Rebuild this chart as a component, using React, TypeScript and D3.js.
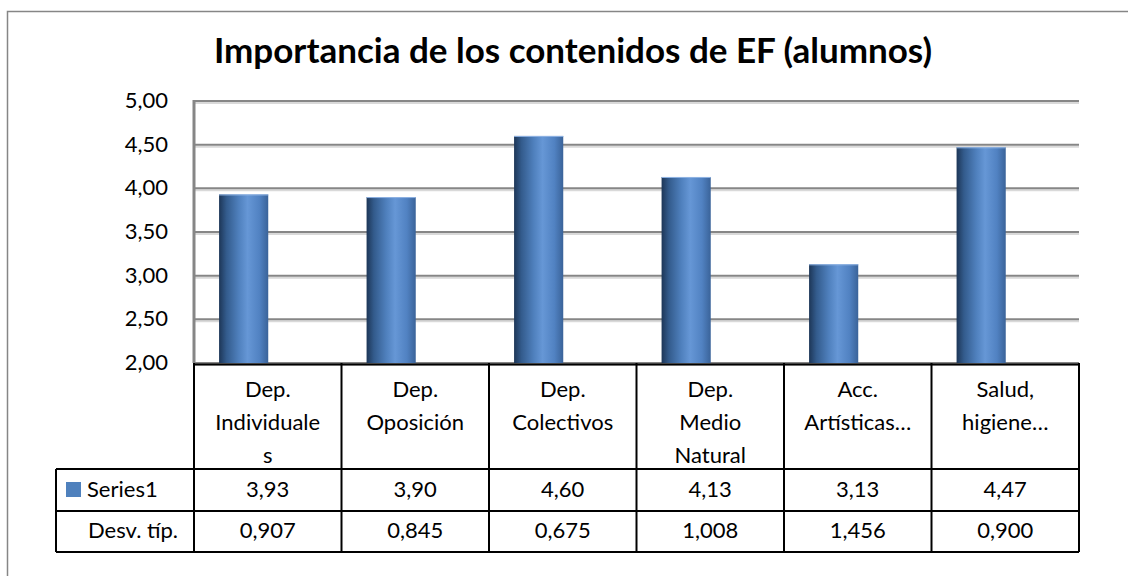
import React from "react";
import * as d3 from "d3";

// chart data
const categories: string[][] = [
    ["Dep.", "Individuale", "s"],
    ["Dep.", "Oposición"],
    ["Dep.", "Colectivos"],
    ["Dep.", "Medio", "Natural"],
    ["Acc.", "Artísticas…"],
    ["Salud,", "higiene…"],
];
const seriesName = "Series1";
const values: number[] = [3.93, 3.9, 4.6, 4.13, 3.13, 4.47];
const desvLabel = "Desv. típ.";
const desv: number[] = [0.907, 0.845, 0.675, 1.008, 1.456, 0.9];
const yTicks: number[] = [2, 2.5, 3, 3.5, 4, 4.5, 5];
const title = "Importancia de los contenidos de EF (alumnos)";

const esLocale = d3.formatLocale({ decimal: ",", thousands: ".", grouping: [3], currency: ["", "€"] });
const fmt2 = esLocale.format(".2f");
const fmt3 = esLocale.format(".3f");

const FONT = "Lato, 'Open Sans', sans-serif";
const FS = 22;

export default function App() {
    const W = 1128;
    const H = 576;
    const plot = { left: 194, right: 1079, top: 101, bottom: 363 };
    const rowHeader = 469;
    const rowSeries = 511;
    const rowDesv = 552;
    const legendLeft = 56;

    // columns of the data table double as the x bands
    const x = d3
        .scaleBand<number>()
        .domain(d3.range(categories.length))
        .range([plot.left, plot.right])
        .paddingInner(0)
        .paddingOuter(0);
    const y = d3.scaleLinear().domain([2, 5]).range([plot.bottom, plot.top]);

    const bw = x.bandwidth();
    const barW = bw / 3;
    const barOffset = bw * 0.17; // bars sit a bit left of centre (3D perspective)

    const colEdges = d3.range(categories.length + 1).map(i => plot.left + i * bw);

    return (
        <svg width={W} height={H} style={{ position: "absolute", left: 0, top: 0, background: "#fff" }} fontFamily={FONT}>
            <defs>
                <linearGradient id="cyl" x1="0" x2="1" y1="0" y2="0">
                    <stop offset="0%" stopColor="#1d3657" />
                    <stop offset="15%" stopColor="#335b8c" />
                    <stop offset="40%" stopColor="#4f80bd" />
                    <stop offset="58%" stopColor="#6697d6" />
                    <stop offset="82%" stopColor="#5182c2" />
                    <stop offset="100%" stopColor="#3a6399" />
                </linearGradient>
            </defs>

            {/* outer chart border, cut off at right and bottom */}
            <rect x={7.5} y={11.5} width={1140} height={600} fill="#fff" stroke="#868686" strokeWidth={1.5} />

            <text x={573} y={63} textAnchor="middle" fontSize={35} fontWeight="bold" fill="#000">
                {title}
            </text>

            {/* gridlines */}
            {yTicks.map(t => (
                <g key={"g" + t}>
                    <line x1={plot.left} x2={plot.right} y1={y(t) + 2} y2={y(t) + 2} stroke="#d9d9d9" strokeWidth={2} />
                    <line x1={plot.left} x2={plot.right} y1={y(t)} y2={y(t)} stroke="#868686" strokeWidth={2} />
                </g>
            ))}
            <line x1={plot.left} x2={plot.left} y1={plot.top - 1} y2={plot.bottom} stroke="#868686" strokeWidth={3} />

            {/* y tick labels */}
            {yTicks.map(t => (
                <text key={"t" + t} x={168} y={y(t) + 7} textAnchor="end" fontSize={FS} fill="#000">
                    {fmt2(t)}
                </text>
            ))}

            {/* bars */}
            {values.map((v, i) => (
                <g key={"b" + i}>
                    <rect x={(x(i) as number) + barOffset} y={y(v)} width={barW} height={plot.bottom - y(v)} fill="url(#cyl)" />
                    <line
                        x1={(x(i) as number) + barOffset}
                        x2={(x(i) as number) + barOffset + barW}
                        y1={y(v) + 0.5}
                        y2={y(v) + 0.5}
                        stroke="#8fb3e3"
                        strokeWidth={1}
                    />
                </g>
            ))}

            {/* data table */}
            <g stroke="#000" strokeWidth={2} fill="none">
                <line x1={plot.left} x2={plot.right} y1={plot.bottom + 1.5} y2={plot.bottom + 1.5} />
                <line x1={legendLeft} x2={plot.right} y1={rowHeader} y2={rowHeader} />
                <line x1={legendLeft} x2={plot.right} y1={rowSeries} y2={rowSeries} />
                <line x1={legendLeft} x2={plot.right} y1={rowDesv} y2={rowDesv} />
                <line x1={legendLeft} x2={legendLeft} y1={rowHeader} y2={rowDesv} />
                {colEdges.map((cx, i) => (
                    <line key={"c" + i} x1={cx} x2={cx} y1={plot.bottom} y2={rowDesv} />
                ))}
            </g>

            {categories.map((lines, i) => (
                <text key={"cat" + i} textAnchor="middle" fontSize={FS} fill="#000">
                    {lines.map((ln, j) => (
                        <tspan key={j} x={(x(i) as number) + bw / 2} y={397 + j * 33}>
                            {ln}
                        </tspan>
                    ))}
                </text>
            ))}

            <rect x={66} y={482} width={15} height={15} fill="#4f81bd" />
            <text x={87} y={497} fontSize={FS} fill="#000">
                {seriesName}
            </text>
            <text x={88} y={538} fontSize={FS} fill="#000">
                {desvLabel}
            </text>

            {values.map((v, i) => (
                <text key={"v" + i} x={(x(i) as number) + bw / 2} y={497} textAnchor="middle" fontSize={FS} fill="#000">
                    {fmt2(v)}
                </text>
            ))}
            {desv.map((v, i) => (
                <text key={"d" + i} x={(x(i) as number) + bw / 2} y={538} textAnchor="middle" fontSize={FS} fill="#000">
                    {fmt3(v)}
                </text>
            ))}
        </svg>
    );
}
